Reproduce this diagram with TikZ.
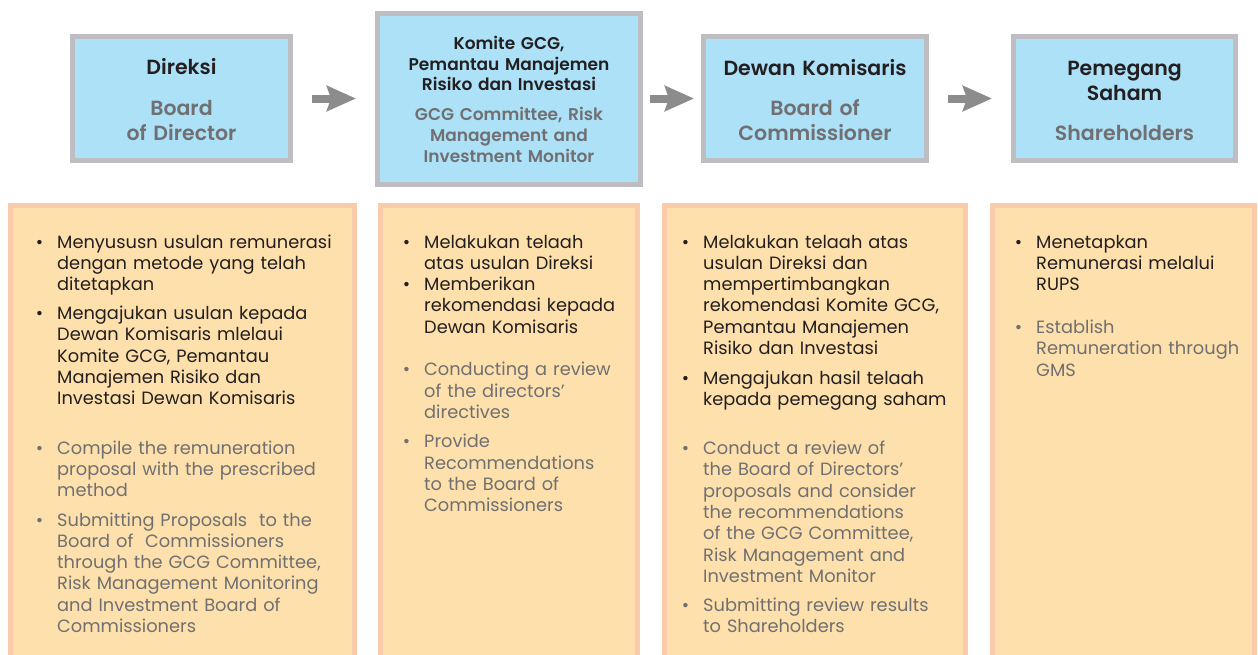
\documentclass[tikz,border=0pt]{standalone}
\usepackage{fontspec}
\setmainfont{Poppins}[BoldFont={Poppins SemiBold}]
\usetikzlibrary{arrows.meta,calc}

\definecolor{boxblue}{RGB}{173,225,248}
\definecolor{boxgray}{RGB}{190,190,194}
\definecolor{notefill}{RGB}{253,224,171}
\definecolor{noteedge}{RGB}{250,203,170}
\definecolor{txtdark}{RGB}{35,31,32}
\definecolor{txtgray}{RGB}{112,112,114}
\definecolor{arrowgray}{RGB}{140,140,140}

\newcommand{\bul}{\makebox[0pt][r]{\textbullet\hspace{14pt}}}

\tikzset{
  role/.style={draw=boxgray, line width=5pt, fill=boxblue, inner sep=0pt, anchor=north west},
  note/.style={draw=noteedge, line width=5pt, fill=notefill, inner sep=0pt, anchor=north west},
  ttl/.style={font=\fontsize{20.5}{25}\selectfont\bfseries, text=txtdark, align=center, text width=260pt, inner sep=0pt, anchor=base},
  sub/.style={ttl, text=txtgray},
  ttlsmall/.style={ttl, font=\fontsize{17}{20.7}\selectfont\bfseries},
  subsmall/.style={ttlsmall, text=txtgray, font=\fontsize{17}{21}\selectfont\bfseries},
  blk/.style={font=\fontsize{17.8}{21.3}\selectfont, text=txtdark, align=left, text width=320pt, inner sep=0pt, anchor=base west},
  gry/.style={blk, text=txtgray},
  flow/.style={draw=arrowgray, line width=8pt, -{Stealth[length=29pt,width=25pt,inset=4pt]}}
}

\begin{document}
\begin{tikzpicture}[x=1pt,y=-1pt]
\useasboundingbox (0,0) rectangle (1258,654);
\clip (0,0) rectangle (1258,654);

% top row
\node[role, minimum width=218pt, minimum height=124pt] (dir) at (70,34) {};
\node[role, minimum width=263pt, minimum height=171pt] (gcg) at (375,11) {};
\node[role, minimum width=223pt, minimum height=124pt] (dekom) at (701,34) {};
\node[role, minimum width=222pt, minimum height=124pt] (rups) at (1011,34) {};

\node[ttl] (dirT) at (181.5,74) {Direksi};
\node[sub] (dirS) at (181.5,115.7) {Board\\of Director};
\node[ttlsmall] (gcgT) at (509,49.3) {Komite GCG,\\Pemantau Manajemen\\Risiko dan Investasi};
\node[subsmall] (gcgS) at (509,120) {GCG Committee, Risk\\Management and\\Investment Monitor};
\node[ttl] (dekomT) at (815,75) {Dewan Komisaris};
\node[sub] (dekomS) at (815,115.5) {Board of\\Commissioner};
\node[ttl] (rupsT) at (1124.5,75) {Pemegang\\Saham};
\node[sub] (rupsS) at (1124.5,140) {Shareholders};

\draw[flow, shorten <=19pt, shorten >=19pt] (dir.east) -- (dir.east -| gcg.west);
\draw[flow, shorten <=7pt, shorten >=7pt] (gcg.east |- dekom.west) -- (dekom.west);
\draw[flow, shorten <=19pt, shorten >=19pt] (dekom.east) -- (rups.west);

% bottom row
\node[note, minimum width=344pt, minimum height=492pt] (n1) at (8,203) {};
\node[note, minimum width=257pt, minimum height=492pt] (n2) at (378,203) {};
\node[note, minimum width=301pt, minimum height=492pt] (n3) at (662,203) {};
\node[note, minimum width=262pt, minimum height=492pt] (n4) at (990,203) {};

\node[blk] (n1a) at (57,248) {\bul Menyususn usulan remunerasi\\dengan metode yang telah\\ditetapkan};
\node[blk] (n1b) at (57,319.5) {\bul Mengajukan usulan kepada\\Dewan Komisaris mlelaui\\Komite GCG, Pemantau\\Manajemen Risiko dan\\Investasi Dewan Komisaris};
\node[gry] (n1c) at (57,454.3) {\bul Compile the remuneration\\proposal with the prescribed\\method};
\node[gry] (n1d) at (57,526) {\bul Submitting Proposals\ \ to the\\Board of\ \ Commissioners\\through the GCG Committee,\\Risk Management Monitoring\\and Investment Board of\\Commissioners};

\node[blk] (n2a) at (424,248) {\bul Melakukan telaah\\atas usulan Direksi};
\node[blk] (n2b) at (424,290.6) {\bul Memberikan\\rekomendasi kepada\\Dewan Komisaris};
\node[gry] (n2c) at (424,375.7) {\bul Conducting a review\\of the directors’\\directives};
\node[gry] (n2d) at (424,447.7) {\bul Provide\\Recommendations\\to the Board of\\Commissioners};

\node[blk] (n3a) at (703,248) {\bul Melakukan telaah atas\\usulan Direksi dan\\mempertimbangkan\\rekomendasi Komite GCG,\\Pemantau Manajemen\\Risiko dan Investasi};
\node[blk] (n3b) at (703,384.5) {\bul Mengajukan hasil telaah\\kepada pemegang saham};
\node[gry] (n3c) at (703,454.5) {\bul Conduct a review of\\the Board of Directors’\\proposals and consider\\the recommendations\\of the GCG Committee,\\Risk Management and\\Investment Monitor};
\node[gry] (n3d) at (703,611.5) {\bul Submitting review results\\to Shareholders};

\node[blk] (n4a) at (1036,248) {\bul Menetapkan\\Remunerasi melalui\\RUPS};
\node[gry] (n4b) at (1036,333.5) {\bul Establish\\Remuneration through\\GMS};
\end{tikzpicture}
\end{document}
